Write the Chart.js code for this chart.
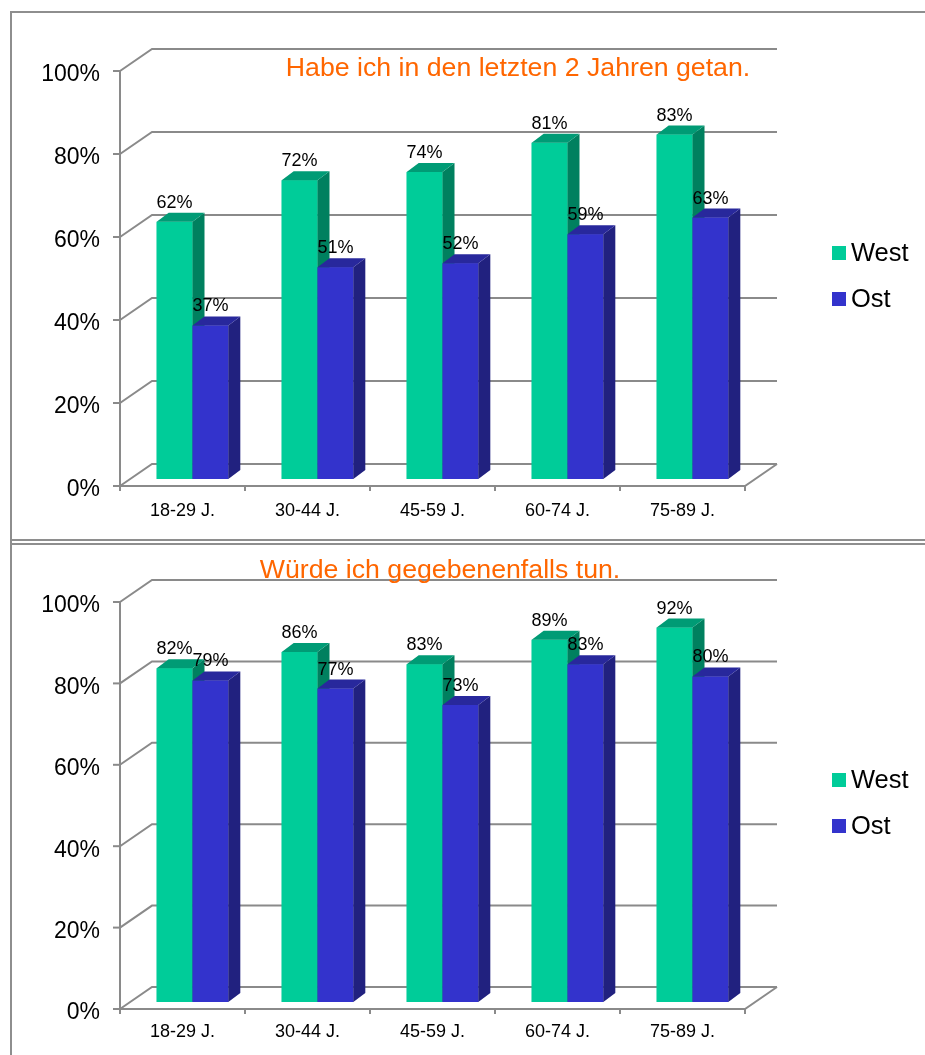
<!DOCTYPE html>
<html>
<head>
<meta charset="utf-8">
<title>West / Ost</title>
<script src="https://cdn.jsdelivr.net/npm/chart.js@4.4.1/dist/chart.umd.min.js"></script>
<style>
  body { margin: 0; background: #fff; }
  #page { position: relative; width: 925px; height: 1055px; overflow: hidden; }
  #page canvas { position: absolute; left: 0; }
  .rule { position: absolute; background: #8e8e8e; }
</style>
</head>
<body>
<div id="page">
  <div class="rule" style="left:10px; top:11px; width:915px; height:2px"></div>
  <div class="rule" style="left:10px; top:11px; width:2px; height:1044px"></div>
  <div class="rule" style="left:10px; top:539px; width:915px; height:2px"></div>
  <div class="rule" style="left:10px; top:543px; width:915px; height:2px"></div>
  <canvas id="chartDone" width="925" height="541" style="top:0"></canvas>
  <canvas id="chartWould" width="925" height="513" style="top:542px"></canvas>
</div>

<script>
// --- data ---
const ageGroups = ['18-29 J.', '30-44 J.', '45-59 J.', '60-74 J.', '75-89 J.'];
const percentTicks = [0, 20, 40, 60, 80, 100];

const doneWest = [62, 72, 74, 81, 83];
const doneOst = [37, 51, 52, 59, 63];

const wouldWest = [82, 86, 83, 89, 92];
const wouldOst = [79, 77, 73, 83, 80];

// --- look ---
const FONT = "'Liberation Sans', Arial, sans-serif";
const GRID = '#8a8a8a';
const ORANGE = '#FF6600';
const WEST = { front: '#00CC99', side: '#00805F', top: '#009B75' };
const OST = { front: '#3333CC', side: '#21217F', top: '#28289C' };

// offsets of the front plane / back wall relative to the bar plane
const FRONT = { dx: -10, dy: 7 };
const BACK = { dx: 22, dy: -15 };
// depth of each bar
const BAR = { dx: 12, dy: -9 };

/**
 * Draws the pseudo-3D frame, the bar sides, value labels, title and legend
 */
const box3d = {
    id: 'box3d',

    beforeDatasetsDraw(chart) {
        const { ctx, chartArea: a } = chart;
        const x = chart.scales.x;
        const y = chart.scales.y;
        const y0 = y.getPixelForValue(0);
        const yTop = y.getPixelForValue(100);

        ctx.save();
        ctx.strokeStyle = GRID;
        ctx.lineWidth = 2;
        ctx.lineJoin = 'miter';

        // back wall lines with the diagonal from the front axis
        percentTicks.forEach(v => {
            const py = y.getPixelForValue(v);
            ctx.beginPath();
            ctx.moveTo(a.left + FRONT.dx, py + FRONT.dy);
            ctx.lineTo(a.left + BACK.dx, py + BACK.dy);
            ctx.lineTo(a.right + BACK.dx, py + BACK.dy);
            ctx.stroke();

            // tick on the front axis
            ctx.beginPath();
            ctx.moveTo(a.left + FRONT.dx - 7, py + FRONT.dy);
            ctx.lineTo(a.left + FRONT.dx, py + FRONT.dy);
            ctx.stroke();
        });

        // front vertical axis
        ctx.beginPath();
        ctx.moveTo(a.left + FRONT.dx, yTop + FRONT.dy);
        ctx.lineTo(a.left + FRONT.dx, y0 + FRONT.dy);
        ctx.stroke();

        // floor: front edge and right edge
        ctx.beginPath();
        ctx.moveTo(a.left + FRONT.dx, y0 + FRONT.dy);
        ctx.lineTo(a.right + FRONT.dx, y0 + FRONT.dy);
        ctx.lineTo(a.right + BACK.dx, y0 + BACK.dy);
        ctx.stroke();

        // category ticks under the floor
        for (let i = 0; i <= ageGroups.length; i++) {
            const px = x.getPixelForValue(i - 0.5) + FRONT.dx;
            ctx.beginPath();
            ctx.moveTo(px, y0 + FRONT.dy);
            ctx.lineTo(px, y0 + FRONT.dy + 5);
            ctx.stroke();
        }
        ctx.restore();
    },

    afterDatasetsDraw(chart) {
        const { ctx } = chart;
        ctx.save();

        // redraw in dataset order so the right bar covers the left bar's side
        chart.data.datasets.forEach((ds, di) => {
            const meta = chart.getDatasetMeta(di);
            meta.data.forEach(bar => {
                bar.draw(ctx);
                const { x, y, width, base } = bar.getProps(['x', 'y', 'width', 'base'], true);
                const left = x - width / 2;
                const right = x + width / 2;

                // side face
                ctx.fillStyle = ds.sideColor;
                ctx.beginPath();
                ctx.moveTo(right, y);
                ctx.lineTo(right + BAR.dx, y + BAR.dy);
                ctx.lineTo(right + BAR.dx, base + BAR.dy);
                ctx.lineTo(right, base);
                ctx.closePath();
                ctx.fill();

                // top face
                ctx.fillStyle = ds.topColor;
                ctx.beginPath();
                ctx.moveTo(left, y);
                ctx.lineTo(left + BAR.dx, y + BAR.dy);
                ctx.lineTo(right + BAR.dx, y + BAR.dy);
                ctx.lineTo(right, y);
                ctx.closePath();
                ctx.fill();
            });
        });

        // value labels
        ctx.fillStyle = '#000';
        ctx.font = '18px ' + FONT;
        ctx.textAlign = 'center';
        ctx.textBaseline = 'alphabetic';
        chart.data.datasets.forEach((ds, di) => {
            chart.getDatasetMeta(di).data.forEach((bar, i) => {
                const { x, y } = bar.getProps(['x', 'y'], true);
                ctx.fillText(ds.data[i] + '%', x, y - 14);
            });
        });
        ctx.restore();
    },

    afterDraw(chart, args, opts) {
        const { ctx } = chart;
        ctx.save();

        // title
        ctx.fillStyle = ORANGE;
        ctx.font = '26.7px ' + FONT;
        ctx.textAlign = 'center';
        ctx.textBaseline = 'middle';
        ctx.fillText(opts.title, opts.titleX, opts.titleY);

        // legend
        ctx.font = '25.5px ' + FONT;
        ctx.textAlign = 'left';
        chart.data.datasets.forEach((ds, i) => {
            const cy = opts.legendY + i * 46;
            ctx.fillStyle = ds.backgroundColor;
            ctx.fillRect(832, cy - 7, 14, 14);
            ctx.fillStyle = '#000';
            ctx.fillText(ds.label, 851, cy + 1);
        });
        ctx.restore();
    }
};

function makeChart(canvasId, title, west, ost, geo) {
    const canvas = document.getElementById(canvasId);
    const ctx = canvas.getContext('2d');
    const barStyle = { borderWidth: 0, barPercentage: 1, categoryPercentage: 0.573 };

    return new Chart(ctx, {
        type: 'bar',
        data: {
            labels: ageGroups,
            datasets: [
                { label: 'West', data: west, backgroundColor: WEST.front, sideColor: WEST.side, topColor: WEST.top, ...barStyle },
                { label: 'Ost', data: ost, backgroundColor: OST.front, sideColor: OST.side, topColor: OST.top, ...barStyle }
            ]
        },
        options: {
            responsive: false,
            animation: false,
            events: [],
            layout: {
                padding: { left: 0, right: 170, top: geo.top, bottom: 0 }
            },
            plugins: {
                legend: { display: false },
                tooltip: { enabled: false },
                box3d: {
                    title: title,
                    titleX: geo.titleX,
                    titleY: geo.titleY,
                    legendY: geo.legendY
                }
            },
            scales: {
                x: {
                    grid: { display: false, drawTicks: false },
                    border: { display: false },
                    ticks: {
                        color: '#000',
                        font: { family: FONT, size: 18 },
                        padding: geo.xPad,
                        labelOffset: FRONT.dx,
                        maxRotation: 0
                    },
                    afterFit: scale => { scale.height = geo.xHeight; }
                },
                y: {
                    min: 0,
                    max: 100,
                    grid: { display: false, drawTicks: false },
                    border: { display: false },
                    ticks: {
                        stepSize: 20,
                        color: '#000',
                        font: { family: FONT, size: 23 },
                        padding: 30,
                        labelOffset: FRONT.dy + 4,
                        callback: v => v + '%'
                    },
                    afterFit: scale => { scale.width = 130; }
                }
            }
        },
        plugins: [box3d]
    });
}

makeChart('chartDone', 'Habe ich in den letzten 2 Jahren getan.', doneWest, doneOst, {
    top: 64, xHeight: 62, xPad: 21, titleX: 518, titleY: 69, legendY: 253
});

makeChart('chartWould', 'Würde ich gegebenenfalls tun.', wouldWest, wouldOst, {
    top: 53, xHeight: 53, xPad: 19, titleX: 440, titleY: 29, legendY: 238
});
</script>
</body>
</html>
